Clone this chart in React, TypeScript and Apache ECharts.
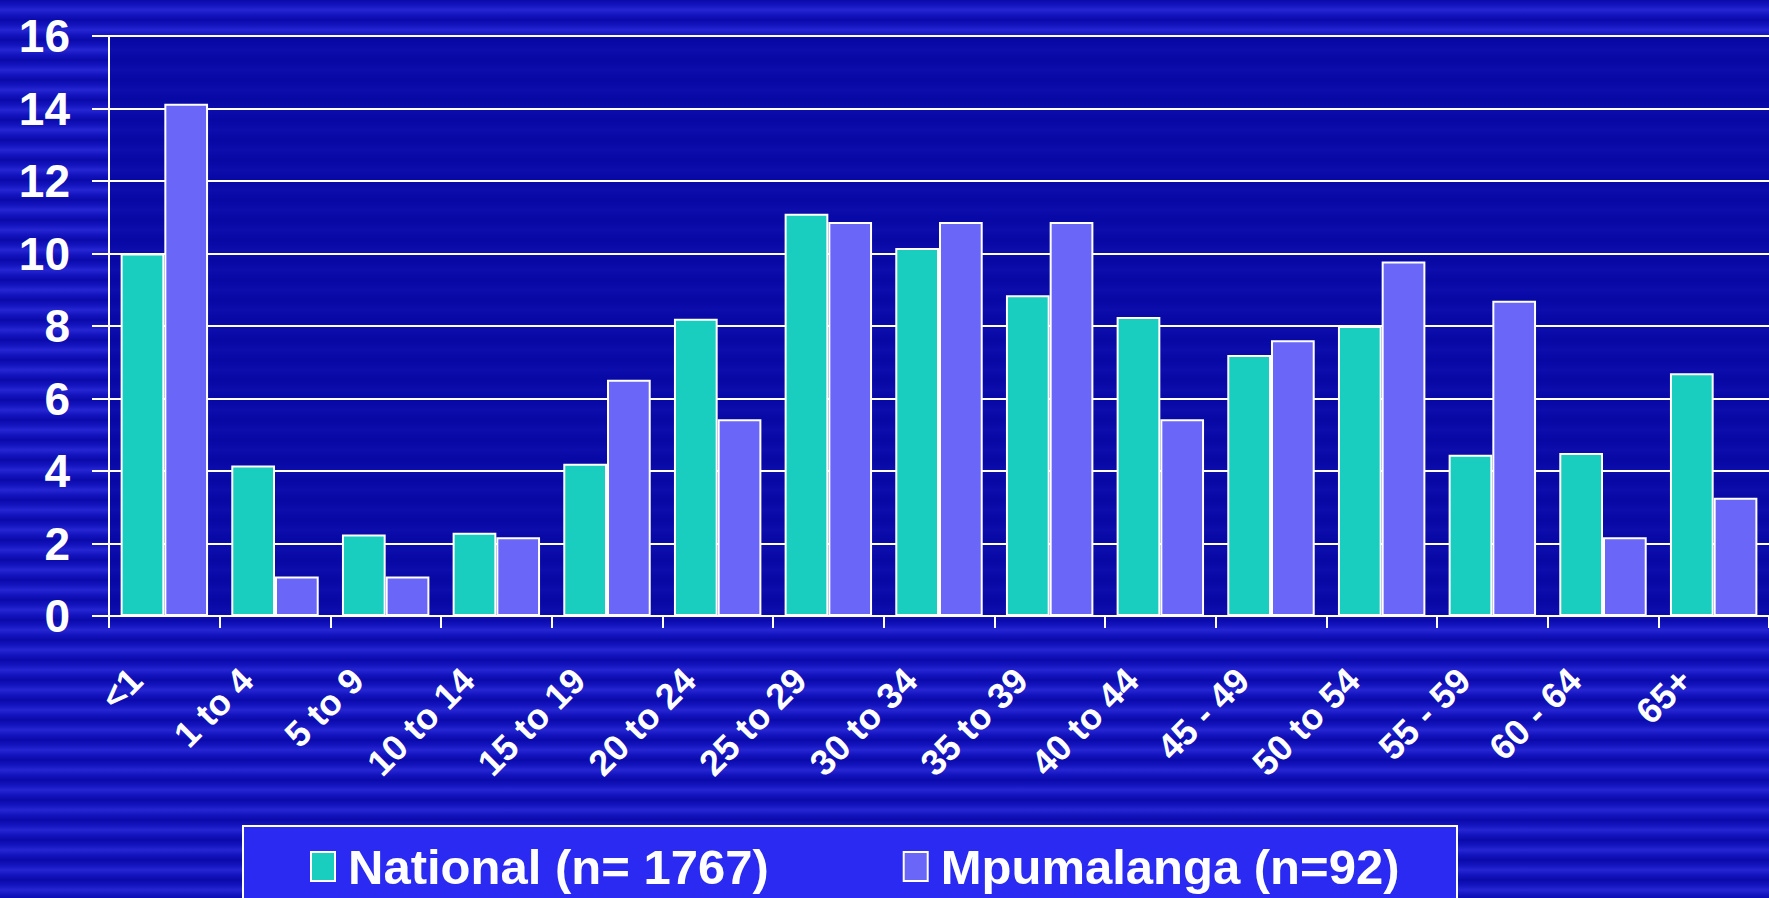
import React, { useEffect, useRef } from "react";
import * as echarts from "echarts";

const categories = [
  "<1", "1 to 4", "5 to 9", "10 to 14", "15 to 19", "20 to 24", "25 to 29",
  "30 to 34", "35 to 39", "40 to 44", "45 - 49", "50 to 54", "55 - 59", "60 - 64", "65+",
];
const nationalValues = [10.0, 4.15, 2.25, 2.3, 4.2, 8.2, 11.1, 10.15, 8.85, 8.25, 7.2, 8.0, 4.45, 4.5, 6.7];
const mpumalangaValues = [14.13, 1.09, 1.09, 2.17, 6.52, 5.43, 10.87, 10.87, 10.87, 5.43, 7.61, 9.78, 8.7, 2.17, 3.26];
const seriesNames = ["National (n= 1767)", "Mpumalanga (n=92)"];
const yMin = 0;
const yMax = 16;
const yInterval = 2;

const FONT = "'Liberation Sans', Arial, sans-serif";

export default function App() {
  const ref = useRef<HTMLDivElement>(null);
  useEffect(() => {
    const chart = echarts.init(ref.current!, null, { renderer: "svg" });
    chart.setOption({
      animation: false,
      backgroundColor: "transparent",
      textStyle: { fontFamily: FONT },
      grid: {
        left: 109,
        top: 36,
        right: -5,
        bottom: 282,
        show: true,
        borderWidth: 0,
        backgroundColor: "rgba(8,8,162,0.8)",
      },
      graphic: [
        {
          type: "rect",
          z: 0,
          shape: { x: 243, y: 826, width: 1214, height: 100 },
          style: { fill: "#2a2af2", stroke: "#ffffff", lineWidth: 2 },
        },
      ],
      legend: {
        z: 10,
        left: 310,
        top: 842,
        padding: 0,
        itemWidth: 24,
        itemHeight: 29,
        itemGap: 134,
        icon: "rect",
        textStyle: {
          color: "#ffffff",
          fontSize: 49,
          lineHeight: 49,
          fontWeight: "bold",
          fontFamily: FONT,
          padding: [0, 0, 0, 8],
        },
        data: seriesNames,
      },
      xAxis: {
        type: "category",
        data: categories,
        axisLine: { show: true, lineStyle: { color: "#ffffff", width: 2 } },
        axisTick: { show: true, length: 12, lineStyle: { color: "#ffffff", width: 2 } },
        axisLabel: {
          interval: 0,
          rotate: 45,
          margin: 30,
          padding: [0, 40, 0, 0],
          color: "#ffffff",
          fontSize: 36,
          fontWeight: "bold",
          fontFamily: FONT,
        },
      },
      yAxis: {
        type: "value",
        min: yMin,
        max: yMax,
        interval: yInterval,
        axisLine: { show: true, lineStyle: { color: "#ffffff", width: 2 } },
        axisTick: { show: true, length: 17, lineStyle: { color: "#ffffff", width: 2 } },
        splitLine: { show: true, lineStyle: { color: "#ffffff", width: 2 } },
        axisLabel: {
          margin: 39,
          color: "#ffffff",
          fontSize: 46,
          fontWeight: "bold",
          fontFamily: FONT,
        },
      },
      series: [
        {
          name: seriesNames[0],
          type: "bar",
          data: nationalValues,
          barGap: "0%",
          barCategoryGap: "21%",
          itemStyle: { color: "#19cdbf", borderColor: "#ffffff", borderWidth: 2 },
        },
        {
          name: seriesNames[1],
          type: "bar",
          data: mpumalangaValues,
          barGap: "0%",
          barCategoryGap: "21%",
          itemStyle: { color: "#6a66f8", borderColor: "#ffffff", borderWidth: 2 },
        },
      ],
    });
    return () => chart.dispose();
  }, []);
  return (
    <div
      ref={ref}
      style={{
        position: "fixed",
        left: 0,
        top: 0,
        width: 1769,
        height: 898,
        background:
          "repeating-linear-gradient(180deg, #0a0aaa 0px, #1414bf 5px, #2626d2 10px, #1414bf 15px, #0a0aaa 20px)",
      }}
    />
  );
}
